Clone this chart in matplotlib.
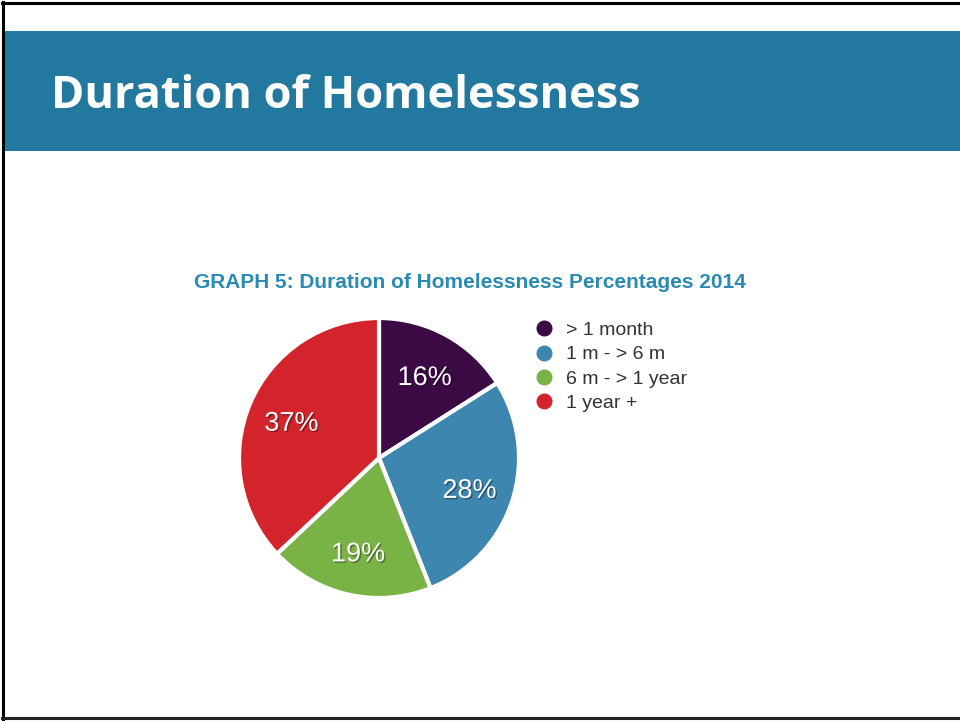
import matplotlib
matplotlib.use('Agg')
import matplotlib.pyplot as plt
import matplotlib.patheffects as pe
from matplotlib.patches import Rectangle
from matplotlib.lines import Line2D

# 无家可归持续时间（2014）
categories = ['> 1 month', '1 m - > 6 m', '6 m - > 1 year', '1 year +']
shares = [16, 28, 19, 37]
colors = ['#3b0a45', '#3c86b0', '#79b245', '#d4242b']

slide_title = 'Duration of Homelessness'
chart_title = 'GRAPH 5: Duration of Homelessness Percentages 2014'

W, H = 960, 721
fig = plt.figure(figsize=(W / 100, H / 100), dpi=100)

# 背景层，用像素坐标
bg = fig.add_axes([0, 0, 1, 1])
bg.set_xlim(0, W)
bg.set_ylim(H, 0)
bg.axis('off')
bg.add_patch(Rectangle((4, 31), W - 4, 120, color='#23789f', lw=0))
bg.plot([3, 3], [2, 719], color='black', lw=2.2)
bg.plot([2, W], [3, 3], color='black', lw=2.2)
bg.plot([2, W], [718, 718], color='#222222', lw=2.2)
bg.text(51, 108, slide_title, color='white', fontsize=32.5, fontweight='bold',
        family='Open Sans', va='baseline', ha='left')
bg.text(470, 282.5, chart_title, color='#2a8ab4', fontsize=15, fontweight='bold',
        family='Liberation Sans', va='center', ha='center')

# 饼图
cx, cy, r = 379, 458, 140
ax = fig.add_axes([(cx - r) / W, (H - cy - r) / H, 2 * r / W, 2 * r / H])
wedges, texts, autotexts = ax.pie(
    shares, colors=colors, startangle=90, counterclock=False,
    autopct=lambda p: f'{p:.0f}%', pctdistance=0.68,
    wedgeprops=dict(edgecolor='white', linewidth=3),
    textprops=dict(color='white', fontsize=19.5, family='Liberation Sans'))
for w in wedges:
    w.set_clip_on(False)
for t in autotexts:
    t.set_path_effects([pe.withSimplePatchShadow(offset=(1, -1), shadow_rgbFace='black', alpha=0.35)])
    x, y = t.get_position()
    t.set_position((x, y - 0.025))
ax.set_xlim(-1, 1)
ax.set_ylim(-1, 1)
ax.set_aspect('equal')

handles = [Line2D([], [], marker='o', linestyle='', markersize=10.5,
                  markerfacecolor=c, markeredgecolor=c) for c in colors]
fig.legend(handles, categories, loc='upper left',
           bbox_to_anchor=(535 / W, 1 - 321.5 / H), frameon=False,
           borderpad=0, borderaxespad=0, handlelength=0.97, handletextpad=0.6,
           labelspacing=0.34, prop=dict(family='Liberation Sans', size=14),
           labelcolor='#333333')

fig.savefig('out.png', dpi=100)
